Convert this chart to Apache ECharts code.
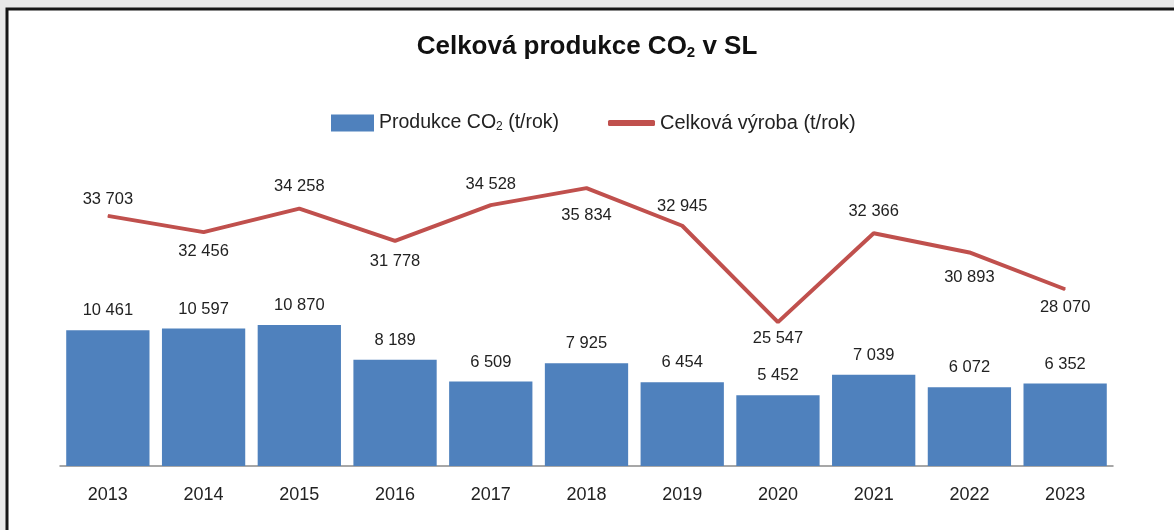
<!DOCTYPE html>
<html><head><meta charset="utf-8">
<script src="https://cdn.jsdelivr.net/npm/echarts@6/dist/echarts.min.js"></script>
<style>html,body{margin:0;padding:0;background:#e8e8e8;}#c{width:1174px;height:530px;}</style>
</head><body><div id="c"></div>
<script>
const categories = ['2013','2014','2015','2016','2017','2018','2019','2020','2021','2022','2023'];
const co2Production = [10461,10597,10870,8189,6509,7925,6454,5452,7039,6072,6352];
const totalProduction = [33703,32456,34258,31778,34528,35834,32945,25547,32366,30893,28070];
const lineLabelPos = ['top','bottom','top','bottom','top','bottom','top','bottom','top','bottom','bottom'];
const lineLabelDist = [7,10,13,11,12,18,10,7,13,16,9];

const FONT = '"Liberation Sans", Arial, sans-serif';
const fmt = v => String(v).replace(/\B(?=(\d{3})+(?!\d))/g, ' ');

const chart = echarts.init(document.getElementById('c'));
chart.setOption({
  backgroundColor: '#e8e8e8',
  animation: false,
  graphic: [{
    type: 'rect', z: -10,
    shape: { x: 7, y: 9, width: 1300, height: 700 },
    style: { fill: '#ffffff', stroke: '#151515', lineWidth: 3 }
  }],
  title: {
    text: '{t|Celková produkce CO}{s|2}{t| v SL}',
    left: 'center', top: 28,
    textStyle: {
      rich: {
        t: { fontFamily: FONT, fontWeight: 'bold', fontSize: 26, color: '#111' },
        s: { fontFamily: FONT, fontWeight: 'bold', fontSize: 15, color: '#111', verticalAlign: 'bottom', padding: [12, 0, 0, 0] }
      }
    }
  },
  legend: [{
    data: ['Produkce CO2 (t/rok)'],
    left: 326, top: 108,
    itemWidth: 43, itemHeight: 17, icon: 'rect',
    formatter: () => '{t|Produkce CO}{s|2}{t| (t/rok)}',
    textStyle: {
      rich: {
        t: { fontFamily: FONT, fontSize: 19.5, color: '#222' },
        s: { fontFamily: FONT, fontSize: 12, color: '#222', verticalAlign: 'bottom', padding: [8, 0, 0, 0] }
      }
    }
  }, {
    data: ['Celková výroba (t/rok)'],
    left: 603, top: 108,
    itemWidth: 47, itemHeight: 6, icon: 'roundRect',
    textStyle: { fontFamily: FONT, fontSize: 20, color: '#222' }
  }],
  grid: { left: 60, right: 61, top: 100, bottom: 64 },
  xAxis: {
    type: 'category', data: categories,
    axisLine: { lineStyle: { color: '#8a8a8a', width: 1.5 } },
    axisTick: { show: false },
    axisLabel: { fontFamily: FONT, fontSize: 18, color: '#222', margin: 20 }
  },
  yAxis: [
    { type: 'value', min: 0, max: 28200, show: false, splitLine: { show: false } },
    { type: 'value', min: 14500, max: 42600, show: false, splitLine: { show: false } }
  ],
  series: [{
    name: 'Produkce CO2 (t/rok)', type: 'bar', yAxisIndex: 0,
    data: co2Production,
    barCategoryGap: '13%',
    itemStyle: { color: '#4f81bd' },
    label: { show: true, position: 'top', distance: 11, fontFamily: FONT, fontSize: 16.5, color: '#222', formatter: p => fmt(p.value) }
  }, {
    name: 'Celková výroba (t/rok)', type: 'line', yAxisIndex: 1,
    data: totalProduction.map((v, i) => ({
      value: v,
      label: { show: true, position: lineLabelPos[i], distance: lineLabelDist[i] }
    })),
    symbol: 'circle', symbolSize: 1, showSymbol: true,
    lineStyle: { color: '#c0504d', width: 4 },
    itemStyle: { color: '#c0504d' },
    label: { show: true, fontFamily: FONT, fontSize: 16.5, color: '#222', formatter: p => fmt(p.value) }
  }]
});
</script></body></html>
